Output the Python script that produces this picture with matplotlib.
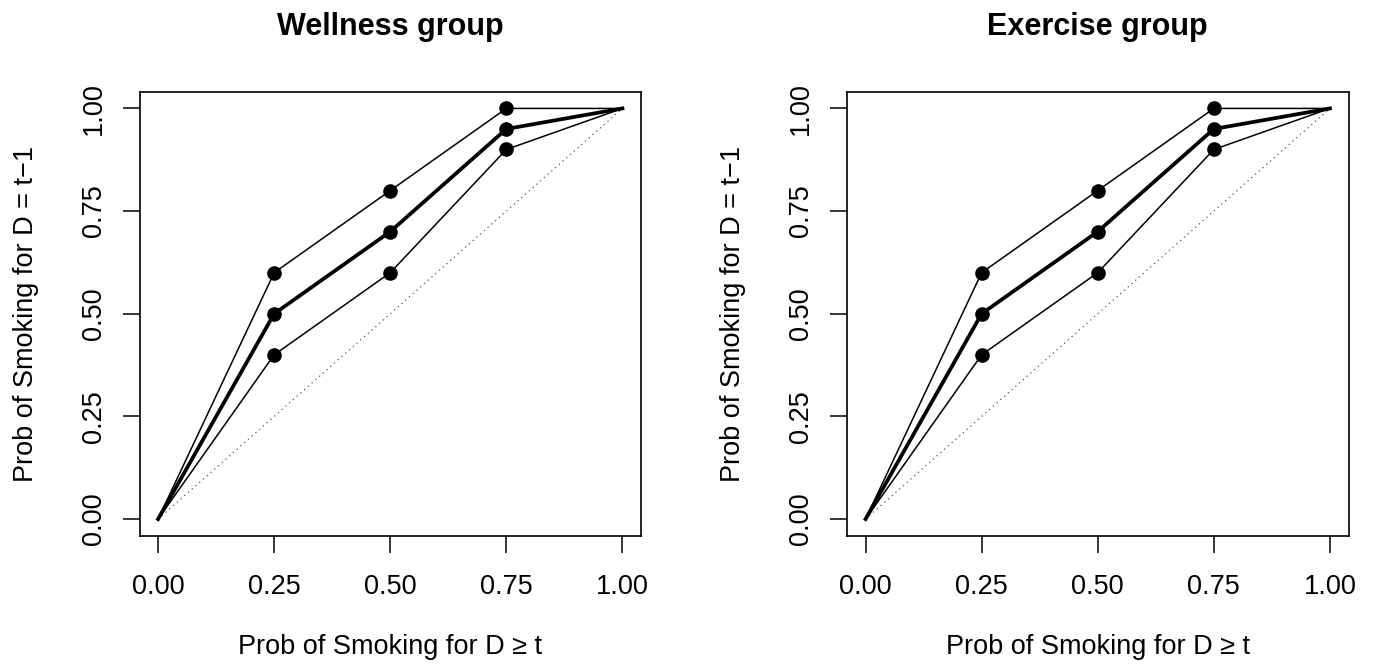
import matplotlib
matplotlib.use("Agg")
import matplotlib.pyplot as plt

# ---- data ----
x_vals = [0.0, 0.25, 0.5, 0.75, 1.0]
wellness_upper = [0.0, 0.60, 0.80, 1.00, 1.0]
wellness_mid = [0.0, 0.50, 0.70, 0.95, 1.0]
wellness_lower = [0.0, 0.40, 0.60, 0.90, 1.0]
exercise_upper = [0.0, 0.60, 0.80, 1.00, 1.0]
exercise_mid = [0.0, 0.50, 0.70, 0.95, 1.0]
exercise_lower = [0.0, 0.40, 0.60, 0.90, 1.0]
tick_vals = [0.0, 0.25, 0.5, 0.75, 1.0]
tick_labels = ["0.00", "0.25", "0.50", "0.75", "1.00"]
titles = ["Wellness group", "Exercise group"]
xlabel = "Prob of Smoking for D \u2265 t"
ylabel = "Prob of Smoking for D = t\u22121"

plt.rcParams['font.family'] = ["Liberation Sans", "DejaVu Sans"]
FS = 19.5
TFS = 22

W, H = 1374, 666
fig = plt.figure(figsize=(W / 100, H / 100), dpi=100)

def fx(px):
    return px / W

def fy(py):
    return 1 - py / H

panels = [
    (139.5, 641.0, titles[0], wellness_upper, wellness_mid, wellness_lower),
    (847.0, 1348.5, titles[1], exercise_upper, exercise_mid, exercise_lower),
]
top, bottom = 92.0, 535.5

for (l, r, title, up, mid, low) in panels:
    ax = fig.add_axes([fx(l), fy(bottom), fx(r) - fx(l), (bottom - top) / H])
    ax.set_xlim(-0.04, 1.04)
    ax.set_ylim(-0.04, 1.04)
    ax.plot([0, 1], [0, 1], linestyle=(0, (1, 3)), color="#555555", linewidth=0.9)
    for ys, lw in ((up, 1.1), (low, 1.1), (mid, 2.7)):
        ax.plot(x_vals, ys, color="black", linewidth=lw, marker="o",
                markersize=9.5, markevery=[1, 2, 3], solid_joinstyle="round")
    ax.set_xticks(tick_vals)
    ax.set_xticklabels(tick_labels)
    ax.set_yticks(tick_vals)
    ax.set_yticklabels(tick_labels, rotation=90, va="center")
    ax.tick_params(axis="both", direction="out", length=12.2, width=1.1,
                   labelsize=FS, color="black")
    ax.tick_params(axis="x", pad=15.5)
    ax.tick_params(axis="y", pad=11.5)
    for s in ax.spines.values():
        s.set_linewidth(1.2)
    cx = (l + r) / 2
    fig.text(fx(cx), fy(26.5), title, ha="center", va="center",
             fontsize=TFS, fontweight="bold")
    fig.text(fx(cx), fy(647), xlabel, ha="center", va="center", fontsize=FS)
    fig.text(fx(l - 113.5), fy((top + bottom) / 2), ylabel, ha="center", va="center",
             rotation=90, fontsize=FS)

fig.savefig("out.png", dpi=100)
